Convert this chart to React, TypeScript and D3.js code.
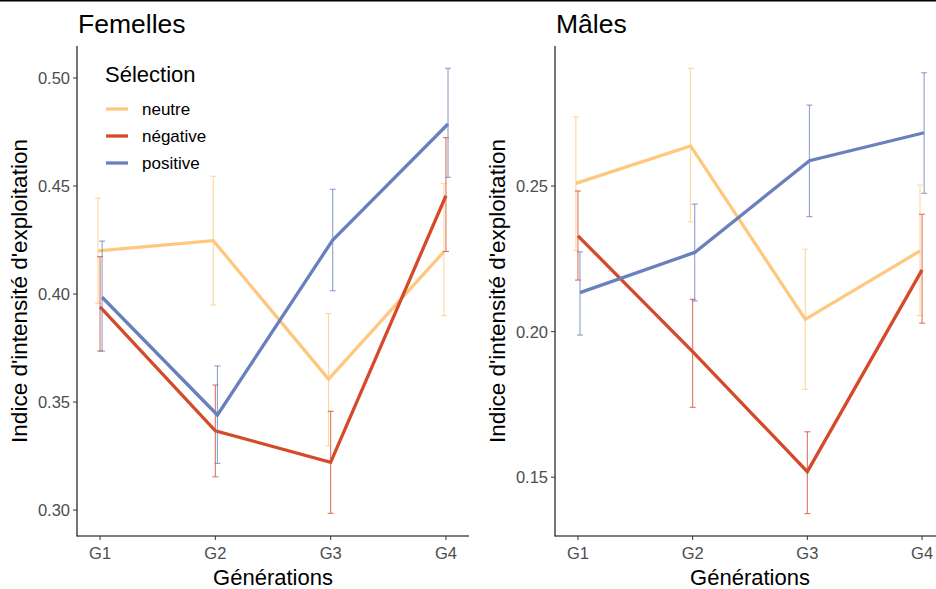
import React from "react";
import * as d3 from "d3";

const width = 936;
const height = 589;

const generations = ["G1", "G2", "G3", "G4"];
const selections = ["neutre", "négative", "positive"];
const colors = ["#FEC97F", "#D44A2A", "#6A80BC"];

// Femelles: mean, lower, upper per selection
const femNeutre = [0.42, 0.4247, 0.3606, 0.4196];
const femNeutreLo = [0.3957, 0.3949, 0.3298, 0.39];
const femNeutreHi = [0.4444, 0.4545, 0.391, 0.4512];
const femNegative = [0.3941, 0.3367, 0.3221, 0.4455];
const femNegativeLo = [0.3736, 0.3154, 0.2985, 0.4197];
const femNegativeHi = [0.4173, 0.3579, 0.3457, 0.4724];
const femPositive = [0.3985, 0.344, 0.425, 0.4787];
const femPositiveLo = [0.3736, 0.3216, 0.4015, 0.454];
const femPositiveHi = [0.4245, 0.3667, 0.4485, 0.5045];

// Mâles
const malNeutre = [0.2509, 0.2638, 0.2042, 0.2277];
const malNeutreLo = [0.2278, 0.2377, 0.1802, 0.2055];
const malNeutreHi = [0.2738, 0.2904, 0.2283, 0.2503];
const malNegative = [0.2329, 0.1931, 0.1519, 0.2212];
const malNegativeLo = [0.2177, 0.174, 0.1375, 0.2029];
const malNegativeHi = [0.2483, 0.2111, 0.1656, 0.2403];
const malPositive = [0.2134, 0.2272, 0.2587, 0.2683];
const malPositiveLo = [0.1988, 0.2105, 0.2395, 0.2475];
const malPositiveHi = [0.2274, 0.2438, 0.2778, 0.2889];

const femTicks = [0.3, 0.35, 0.4, 0.45, 0.5];
const malTicks = [0.15, 0.2, 0.25];

const font = "'Liberation Sans', Arial, sans-serif";
const top = 46;
const bottom = 536;

type Series = { mean: number[]; lo: number[]; hi: number[] };

function Panel(props: {
  title: string;
  x0: number;
  x1: number;
  domain: [number, number];
  ticks: number[];
  series: Series[];
  legend?: boolean;
}) {
  const { title, x0, x1, domain, ticks, series, legend } = props;
  const xScale = d3.scalePoint().domain(generations).range([x0, x1]).padding(0.2);
  const yScale = d3.scaleLinear().domain(domain).range([bottom, top]);
  const step = xScale.step();
  const dodge = [-step * 0.018, 0, step * 0.018];
  const fmt = d3.format(".2f");

  return (
    <g>
      {/* data */}
      {series.map((s, i) => {
        const xs = (j: number) => (xScale(generations[j]) as number) + dodge[i];
        const line = d3
          .line<number>()
          .x((_, j) => xs(j))
          .y(d => yScale(d));
        return (
          <g key={i}>
            {s.mean.map((_, j) => (
              <g key={j} stroke={colors[i]} strokeOpacity={0.75} strokeWidth={1.1} fill="none">
                <line x1={xs(j)} x2={xs(j)} y1={yScale(s.lo[j])} y2={yScale(s.hi[j])} />
                <line x1={xs(j) - 3} x2={xs(j) + 3} y1={yScale(s.lo[j])} y2={yScale(s.lo[j])} />
                <line x1={xs(j) - 3} x2={xs(j) + 3} y1={yScale(s.hi[j])} y2={yScale(s.hi[j])} />
              </g>
            ))}
            <path d={line(s.mean) || ""} fill="none" stroke={colors[i]} strokeWidth={3.3} />
          </g>
        );
      })}

      {/* axes */}
      <line x1={x0} x2={x0} y1={top} y2={bottom + 0.5} stroke="#000" strokeWidth={1.1} />
      <line x1={x0} x2={x1} y1={bottom} y2={bottom} stroke="#000" strokeWidth={1.1} />
      {ticks.map(t => (
        <g key={t}>
          <line x1={x0 - 4} x2={x0} y1={yScale(t)} y2={yScale(t)} stroke="#333" />
          <text
            x={x0 - 7}
            y={yScale(t)}
            dy="0.36em"
            textAnchor="end"
            fontSize={16.5}
            fill="#4D4D4D"
            fontFamily={font}
          >
            {fmt(t)}
          </text>
        </g>
      ))}
      {generations.map(g => (
        <g key={g}>
          <line x1={xScale(g)} x2={xScale(g)} y1={bottom} y2={bottom + 4} stroke="#333" />
          <text
            x={xScale(g)}
            y={bottom + 23}
            textAnchor="middle"
            fontSize={16.5}
            fill="#4D4D4D"
            fontFamily={font}
          >
            {g}
          </text>
        </g>
      ))}
      <text
        x={(x0 + x1) / 2}
        y={585}
        textAnchor="middle"
        fontSize={22}
        fill="#000"
        fontFamily={font}
      >
        Générations
      </text>
      <text
        transform={`translate(${x0 - 50},${(top + bottom) / 2}) rotate(-90)`}
        textAnchor="middle"
        fontSize={22.5}
        fill="#000"
        fontFamily={font}
      >
        Indice d'intensité d'exploitation
      </text>
      <text x={x0 + 1} y={33} fontSize={26.5} fill="#000" fontFamily={font}>
        {title}
      </text>

      {legend && (
        <g fontFamily={font}>
          <text x={105} y={82} fontSize={22} fill="#000">
            Sélection
          </text>
          {selections.map((s, i) => (
            <g key={s} transform={`translate(0, ${109 + i * 27})`}>
              <line x1={106} x2={128} y1={0} y2={0} stroke={colors[i]} strokeWidth={3.3} />
              <text x={142} y={0} dy="0.36em" fontSize={17} fill="#000">
                {s}
              </text>
            </g>
          ))}
        </g>
      )}
    </g>
  );
}

export default function App() {
  const femSeries: Series[] = [
    { mean: femNeutre, lo: femNeutreLo, hi: femNeutreHi },
    { mean: femNegative, lo: femNegativeLo, hi: femNegativeHi },
    { mean: femPositive, lo: femPositiveLo, hi: femPositiveHi },
  ];
  const malSeries: Series[] = [
    { mean: malNeutre, lo: malNeutreLo, hi: malNeutreHi },
    { mean: malNegative, lo: malNegativeLo, hi: malNegativeHi },
    { mean: malPositive, lo: malPositiveLo, hi: malPositiveHi },
  ];
  return (
    <svg
      width={width}
      height={height}
      style={{ position: "absolute", left: 0, top: 0, background: "#fff" }}
    >
      <rect x={0} y={0} width={width} height={height} fill="#fff" />
      <line x1={0} x2={width} y1={0.75} y2={0.75} stroke="#000" strokeWidth={1.5} />
      <Panel
        title="Femelles"
        x0={77}
        x1={469}
        domain={[0.288, 0.5148]}
        ticks={femTicks}
        series={femSeries}
        legend
      />
      <Panel
        title="Mâles"
        x0={555}
        x1={945}
        domain={[0.1298, 0.2981]}
        ticks={malTicks}
        series={malSeries}
      />
    </svg>
  );
}
